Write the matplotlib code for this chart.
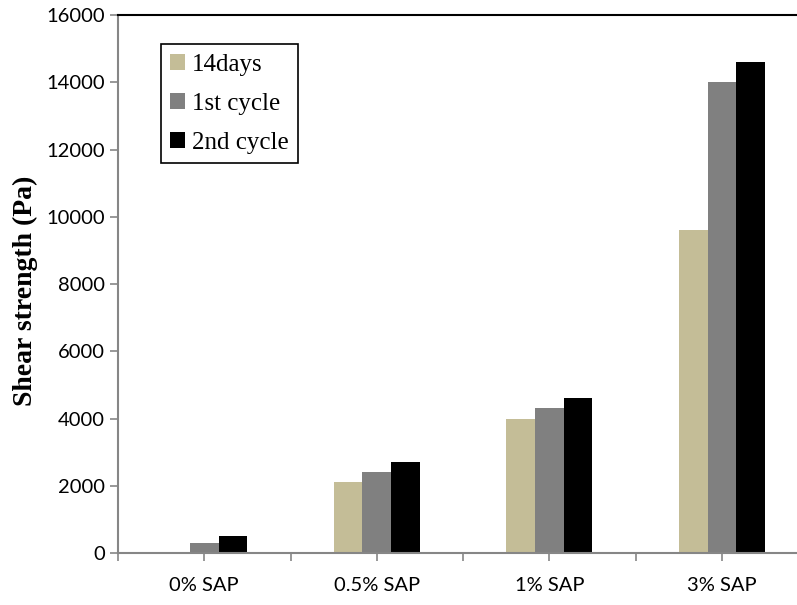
import numpy as np
from matplotlib import pyplot as plt

categories = ['0% SAP', '0.5% SAP', '1% SAP', '3% SAP']
days14 = [0, 2100, 4000, 9600]
cycle1 = [300, 2400, 4300, 14000]
cycle2 = [500, 2700, 4600, 14600]
y_ticks = [0, 2000, 4000, 6000, 8000, 10000, 12000, 14000, 16000]

axis_gray = '#868686'

fig = plt.figure(figsize=(7.97, 6.05), dpi=100)
ax = fig.add_axes([0.148, 0.086, 0.866, 0.889])

x = np.arange(len(categories))
w = 1.0 / 6
ax.bar(x - w, days14, w, color='#C4BD97', label='14days')
ax.bar(x, cycle1, w, color='#808080', label='1st cycle')
ax.bar(x + w, cycle2, w, color='#000000', label='2nd cycle')

ax.set_xlim(-0.5, len(categories) - 0.5)
ax.set_ylim(0, 16000)
ax.set_yticks(y_ticks)
ax.set_xticks(x)
ax.set_xticklabels(categories)
ax.set_xticks(np.arange(-0.5, len(categories), 1.0), minor=True)

for side in ['left', 'bottom']:
    ax.spines[side].set_color(axis_gray)
    ax.spines[side].set_linewidth(1.5)
ax.spines['top'].set_color('black')
ax.spines['top'].set_linewidth(1.5)
ax.spines['right'].set_visible(False)

ax.tick_params(axis='both', which='both', direction='out', length=6,
               width=1.2, color=axis_gray)
ax.tick_params(axis='x', which='major', pad=11)
for lab in ax.get_xticklabels() + ax.get_yticklabels():
    lab.set_fontfamily('Lato')
    lab.set_fontsize(14.5)

fig.text(0.032, 0.52, 'Shear strength (Pa)', rotation=90, ha='center', va='center',
         family='Liberation Serif', fontweight='bold', fontsize=20)

leg = ax.legend(loc='upper left', bbox_to_anchor=(0.202, 0.927),
                bbox_transform=fig.transFigure, borderaxespad=0,
                prop={'family': 'Liberation Serif', 'size': 18},
                handlelength=0.6, handleheight=0.6, handletextpad=0.25,
                labelspacing=0.68, borderpad=0.38, fancybox=False,
                framealpha=1, edgecolor='black')
leg.get_frame().set_linewidth(1.2)

plt.savefig('out.png', dpi=100)
